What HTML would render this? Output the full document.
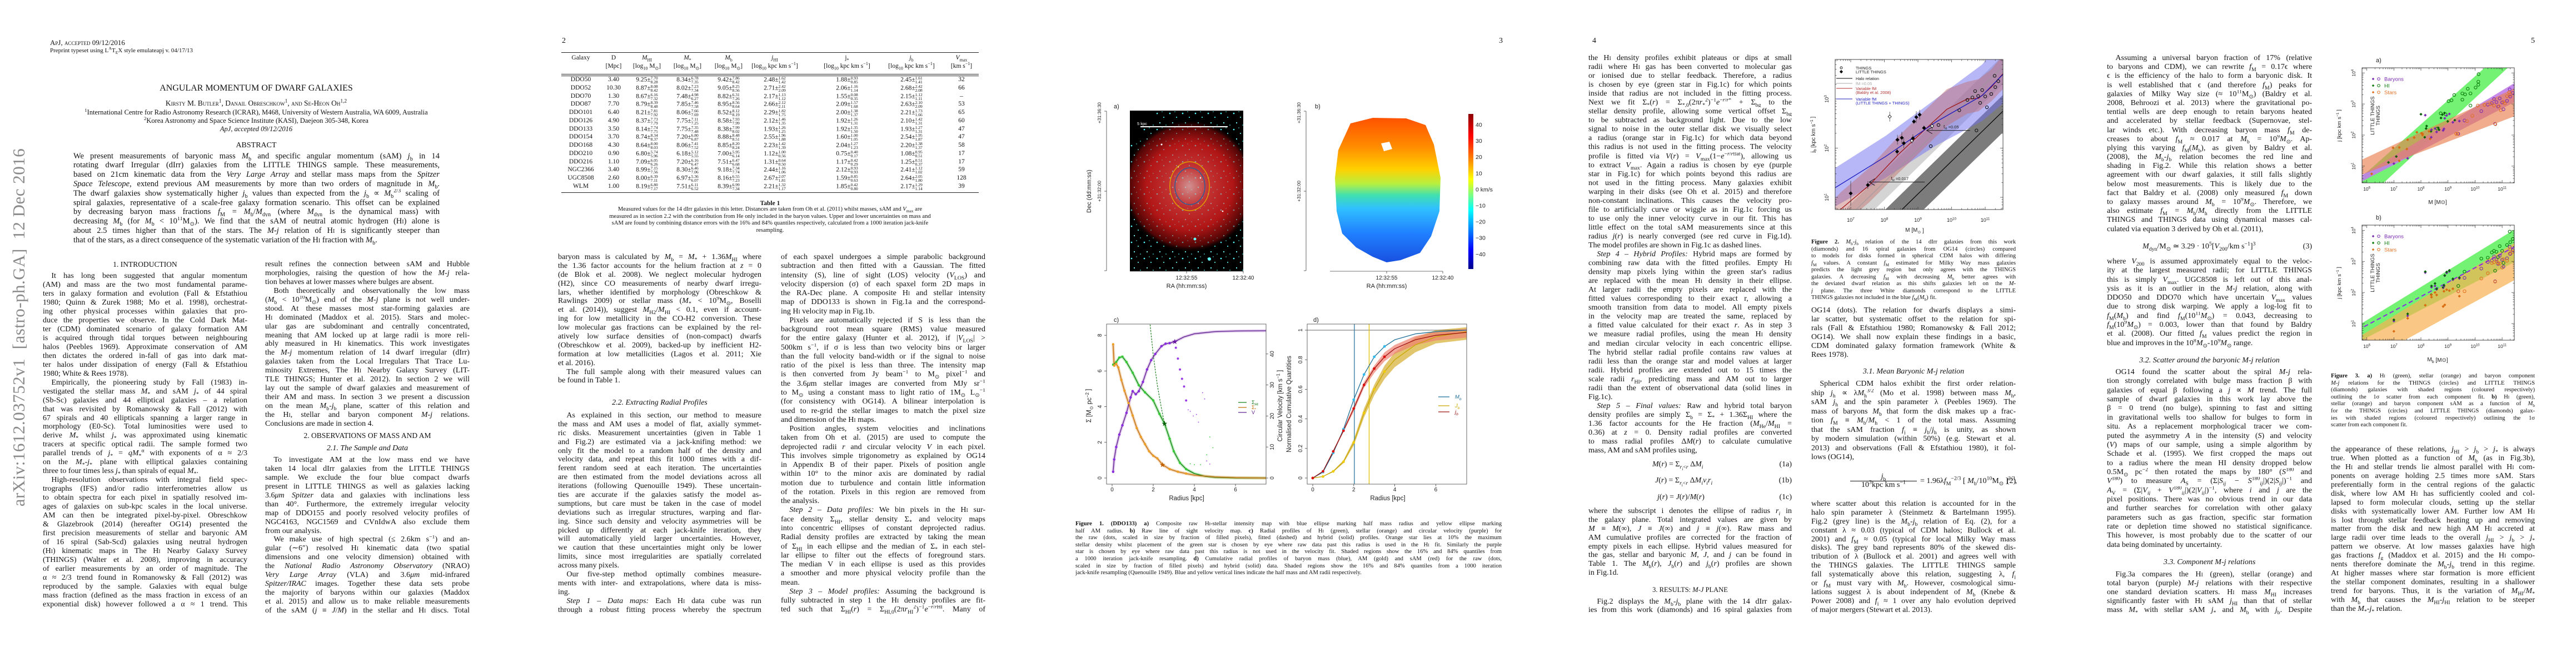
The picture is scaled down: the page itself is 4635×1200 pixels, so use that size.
<!DOCTYPE html>
<html><head><meta charset="utf-8">
<style>
html,body{margin:0;padding:0;background:#fff}
body{width:4635px;height:1200px;position:relative;overflow:hidden;font-family:"Liberation Serif",serif;color:#111}
.pg{position:absolute;top:0;width:927px;height:1200px}
.blk{position:absolute;font-size:14px}
.blk>div{height:var(--lh);line-height:var(--lh);overflow:hidden;text-align:justify;text-align-last:justify;white-space:normal}
.blk>div.e{text-align-last:left}
.blk>div.i{text-indent:1.1em}
.blk>div.c{text-align:center;text-align-last:center}
.cap{font-size:10.6px}
.abs{position:absolute;white-space:nowrap}
.hd{position:absolute;text-align:center;font-size:13.5px;line-height:16px;height:16px}
sub,sup{font-size:70%;line-height:0}
.pn{position:absolute;top:66px;font-size:14px}
#side{position:absolute;left:34px;top:589px;transform:translate(-50%,-50%) rotate(-90deg);font-size:31px;color:#8a8a8a;white-space:nowrap;letter-spacing:0.5px}
.tb{position:absolute;font-size:11.5px;white-space:nowrap;transform:translateX(-50%)}
.st{display:inline-block;vertical-align:middle;font-size:7.5px;line-height:7px;text-align:left}
.rule{position:absolute;height:1px;background:#222}
</style></head>
<body>

<!-- ===================== PAGE 1 ===================== -->
<div class="pg" style="left:0">
<div id="side">arXiv:1612.03752v1&nbsp; [astro-ph.GA]&nbsp; 12 Dec 2016</div>
<div class="abs" style="left:90px;top:69px;font-size:13px;font-variant:small-caps">ApJ, accepted 09/12/2016</div>
<div class="abs" style="left:90px;top:85px;font-size:11px">Preprint typeset using L<sup>A</sup>T<sub>E</sub>X style emulateapj v. 04/17/13</div>
<div class="hd" style="left:0;width:922px;top:151px;font-size:16px">ANGULAR MOMENTUM OF DWARF GALAXIES</div>
<div class="hd" style="left:0;width:922px;top:178px;font-size:13.5px;font-variant:small-caps">Kirsty M. Butler<sup>1</sup>, Danail Obreschkow<sup>1</sup>, and Se-Heon Oh<sup>1,2</sup></div>
<div class="hd" style="left:0;width:922px;top:194px;font-size:12.5px"><sup>1</sup>International Centre for Radio Astronomy Research (ICRAR), M468, University of Western Australia, WA 6009, Australia</div>
<div class="hd" style="left:0;width:922px;top:209px;font-size:12.5px"><sup>2</sup>Korea Astronomy and Space Science Institute (KASI), Daejeon 305-348, Korea</div>
<div class="hd" style="left:0;width:922px;top:224px;font-size:12.5px;font-style:italic">ApJ, accepted 09/12/2016</div>
<div class="hd" style="left:0;width:922px;top:254px;font-size:14px">ABSTRACT</div>
<div class="blk" style="left:132px;top:272.6px;width:659px;--lh:16.8px;font-size:14.5px">
<div>We present measurements of baryonic mass <i>M</i><sub>b</sub> and specific angular momentum (sAM) <i>j</i><sub>b</sub> in 14</div>
<div>rotating dwarf Irregular (dIrr) galaxies from the LITTLE THINGS sample. These measurements,</div>
<div>based on 21cm kinematic data from the <i>Very Large Array</i> and stellar mass maps from the <i>Spitzer</i></div>
<div><i>Space Telescope</i>, extend previous AM measurements by more than two orders of magnitude in <i>M</i><sub>b</sub>.</div>
<div>The dwarf galaxies show systematically higher <i>j</i><sub>b</sub> values than expected from the <i>j</i><sub>b</sub> ∝ <i>M</i><sub>b</sub><sup>2/3</sup> scaling of</div>
<div>spiral galaxies, representative of a scale-free galaxy formation scenario. This offset can be explained</div>
<div>by decreasing baryon mass fractions <i>f</i><sub>M</sub> = <i>M</i><sub>b</sub>/<i>M</i><sub>dyn</sub> (where <i>M</i><sub>dyn</sub> is the dynamical mass) with</div>
<div>decreasing <i>M</i><sub>b</sub> (for <i>M</i><sub>b</sub> &lt; 10<sup>11</sup>M<sub>⊙</sub>). We find that the sAM of neutral atomic hydrogen (H<span style="font-size:70%">I</span>) alone is</div>
<div>about 2.5 times higher than that of the stars. The <i>M</i>-<i>j</i> relation of H<span style="font-size:70%">I</span> is significantly steeper than</div>
<div class="e">that of the stars, as a direct consequence of the systematic variation of the H<span style="font-size:70%">I</span> fraction with <i>M</i><sub>b</sub>.</div>
</div>
<div class="hd" style="left:77px;width:368px;top:468px">1. INTRODUCTION</div>
<div class="blk" style="left:77px;top:489px;width:368px;--lh:15.97px">
<div class="i">It has long been suggested that angular momentum</div>
<div>(AM) and mass are the two most fundamental parame-</div>
<div>ters in galaxy formation and evolution (Fall &amp; Efstathiou</div>
<div>1980; Quinn &amp; Zurek 1988; Mo et al. 1998), orchestrat-</div>
<div>ing other physical processes within galaxies that pro-</div>
<div>duce the properties we observe. In the Cold Dark Mat-</div>
<div>ter (CDM) dominated scenario of galaxy formation AM</div>
<div>is acquired through tidal torques between neighbouring</div>
<div>halos (Peebles 1969). Approximate conservation of AM</div>
<div>then dictates the ordered in-fall of gas into dark mat-</div>
<div>ter halos under dissipation of energy (Fall &amp; Efstathiou</div>
<div class="e">1980; White &amp; Rees 1978).</div>
<div class="i">Empirically, the pioneering study by Fall (1983) in-</div>
<div>vestigated the stellar mass <i>M</i><sub>*</sub> and sAM <i>j</i><sub>*</sub> of 44 spiral</div>
<div>(Sb-Sc) galaxies and 44 elliptical galaxies – a relation</div>
<div>that was revisited by Romanowsky &amp; Fall (2012) with</div>
<div>67 spirals and 40 ellipticals spanning a larger range in</div>
<div>morphology (E0-Sc). Total luminosities were used to</div>
<div>derive <i>M</i><sub>*</sub> whilst <i>j</i><sub>*</sub> was approximated using kinematic</div>
<div>tracers at specific optical radii. The sample formed two</div>
<div>parallel trends of <i>j</i><sub>*</sub> = <i>qM</i><sub>*</sub><sup>α</sup> with exponents of α ≈ 2/3</div>
<div>on the <i>M</i><sub>*</sub>-<i>j</i><sub>*</sub> plane with elliptical galaxies containing</div>
<div class="e">three to four times less <i>j</i><sub>*</sub> than spirals of equal <i>M</i><sub>*</sub>.</div>
<div class="i">High-resolution observations with integral field spec-</div>
<div>trographs (IFS) and/or radio interferometries allow us</div>
<div>to obtain spectra for each pixel in spatially resolved im-</div>
<div>ages of galaxies on sub-kpc scales in the local universe.</div>
<div>AM can then be integrated pixel-by-pixel. Obreschkow</div>
<div>&amp; Glazebrook (2014) (hereafter OG14) presented the</div>
<div>first precision measurements of stellar and baryonic AM</div>
<div>of 16 spiral (Sab-Scd) galaxies using neutral hydrogen</div>
<div>(H<span style="font-size:70%">I</span>) kinematic maps in The H<span style="font-size:70%">I</span> Nearby Galaxy Survey</div>
<div>(THINGS) (Walter et al. 2008), improving in accuracy</div>
<div>of earlier measurements by an order of magnitude. The</div>
<div>α ≈ 2/3 trend found in Romanowsky &amp; Fall (2012) was</div>
<div>reproduced by the sample. Galaxies with equal bulge</div>
<div>mass fraction (defined as the mass fraction in excess of an</div>
<div>exponential disk) however followed a α ≈ 1 trend. This</div>
</div>
<div class="blk" style="left:477px;top:468px;width:368px;--lh:15.94px">
<div>result refines the connection between sAM and Hubble</div>
<div>morphologies, raising the question of how the <i>M</i>-<i>j</i> rela-</div>
<div class="e">tion behaves at lower masses where bulges are absent.</div>
<div class="i">Both theoretically and observationally the low mass</div>
<div>(<i>M</i><sub>b</sub> &lt; 10<sup>10</sup>M<sub>⊙</sub>) end of the <i>M</i>-<i>j</i> plane is not well under-</div>
<div>stood. At these masses most star-forming galaxies are</div>
<div>H<span style="font-size:70%">I</span> dominated (Maddox et al. 2015). Stars and molec-</div>
<div>ular gas are subdominant and centrally concentrated,</div>
<div>meaning that AM locked up at large radii is more reli-</div>
<div>ably measured in H<span style="font-size:70%">I</span> kinematics. This work investigates</div>
<div>the <i>M</i>-<i>j</i> momentum relation of 14 dwarf irregular (dIrr)</div>
<div>galaxies taken from the Local Irregulars That Trace Lu-</div>
<div>minosity Extremes, The H<span style="font-size:70%">I</span> Nearby Galaxy Survey (LIT-</div>
<div>TLE THINGS; Hunter et al. 2012). In section 2 we will</div>
<div>lay out the sample of dwarf galaxies and measurement of</div>
<div>their AM and mass. In section 3 we present a discussion</div>
<div>on the mean <i>M</i><sub>b</sub>-<i>j</i><sub>b</sub> plane, scatter of this relation and</div>
<div>the H<span style="font-size:70%">I</span>, stellar and baryon component <i>M</i>-<i>j</i> relations.</div>
<div class="e">Conclusions are made in section 4.</div>
</div>
<div class="hd" style="left:477px;width:368px;top:776px">2. OBSERVATIONS OF MASS AND AM</div>
<div class="hd" style="left:477px;width:368px;top:799px;font-style:italic;font-size:14px">2.1. The Sample and Data</div>
<div class="blk" style="left:477px;top:820px;width:368px;--lh:15.94px">
<div class="i">To investigate AM at the low mass end we have</div>
<div>taken 14 local dIrr galaxies from the LITTLE THINGS</div>
<div>sample. We exclude the four blue compact dwarfs</div>
<div>present in LITTLE THINGS as well as galaxies lacking</div>
<div>3.6<i>μm Spitzer</i> data and galaxies with inclinations less</div>
<div>than 40°. Furthermore, the extremely irregular velocity</div>
<div>map of DDO155 and poorly resolved velocity profiles of</div>
<div>NGC4163, NGC1569 and CVnIdwA also exclude them</div>
<div class="e">from our analysis.</div>
<div class="i">We make use of high spectral (≤ 2.6km s<sup>−1</sup>) and an-</div>
<div>gular (∼6″) resolved H<span style="font-size:70%">I</span> kinematic data (two spatial</div>
<div>dimensions and one velocity dimension) obtained with</div>
<div>the <i>National Radio Astronomy Observatory</i> (NRAO)</div>
<div><i>Very Large Array</i> (VLA) and 3.6<i>μm</i> mid-infrared</div>
<div><i>Spitzer/IRAC</i> images. Together these data sets probe</div>
<div>the majority of baryons within our galaxies (Maddox</div>
<div>et al. 2015) and allow us to make reliable measurements</div>
<div>of the sAM (<i>j</i> ≡ <i>J</i>/<i>M</i>) in the stellar and H<span style="font-size:70%">I</span> discs. Total</div>
</div>
</div>

<!-- ===================== PAGE 2 ===================== -->
<div class="pg" style="left:927px">
<div class="pn" style="left:84px">2</div>
<div id="table1" style="position:absolute;left:0;top:0;width:927px;height:360px">
<div class="rule" style="left:83px;width:751px;top:94px"></div>
<div class="rule" style="left:83px;width:751px;top:133px"></div>
<div class="rule" style="left:83px;width:751px;top:136px"></div>
<div class="rule" style="left:83px;width:751px;top:346px"></div>
</div>
<div class="hd" style="left:0;width:917px;top:358px;font-size:11.5px;font-weight:bold">Table 1</div>
<div class="blk cap" style="left:83px;top:371px;width:751px;--lh:12.6px">
<div class="c">Measured values for the 14 dIrr galaxies in this letter. Distances are taken from Oh et al. (2011) whilst masses, sAM and <i>V</i><sub>max</sub> are</div>
<div class="c">measured as in section 2.2 with the contribution from He only included in the baryon values. Upper and lower uncertainties on mass and</div>
<div class="c">sAM are found by combining distance errors with the 16% and 84% quantiles respectively, calculated from a 1000 iteration jack-knife</div>
<div class="c">resampling.</div>
</div>
<div class="blk" style="left:77px;top:455px;width:366px;--lh:15.9px">
<div>baryon mass is calculated by <i>M</i><sub>b</sub> = <i>M</i><sub>*</sub> + 1.36<i>M</i><sub>HI</sub> where</div>
<div>the 1.36 factor accounts for the helium fraction at <i>z</i> = 0</div>
<div>(de Blok et al. 2008). We neglect molecular hydrogen</div>
<div>(H2), since CO measurements of nearby dwarf irregu-</div>
<div>lars, whether identified by morphology (Obreschkow &amp;</div>
<div>Rawlings 2009) or stellar mass (<i>M</i><sub>*</sub> &lt; 10<sup>9</sup>M<sub>⊙</sub>, Boselli</div>
<div>et al. (2014)), suggest <i>M</i><sub>H2</sub>/<i>M</i><sub>HI</sub> &lt; 0.1, even if account-</div>
<div>ing for low metallicity in the CO-H2 conversion. These</div>
<div>low molecular gas fractions can be explained by the rel-</div>
<div>atively low surface densities of (non-compact) dwarfs</div>
<div>(Obreschkow et al. 2009), backed-up by inefficient H2-</div>
<div>formation at low metallicities (Lagos et al. 2011; Xie</div>
<div class="e">et al. 2016).</div>
<div class="i">The full sample along with their measured values can</div>
<div class="e">be found in Table 1.</div>
</div>
<div class="hd" style="left:77px;width:366px;top:717px;font-style:italic;font-size:14px">2.2. Extracting Radial Profiles</div>
<div class="blk" style="left:77px;top:740px;width:366px;--lh:15.9px">
<div class="i">As explained in this section, our method to measure</div>
<div>the mass and AM uses a model of flat, axially symmet-</div>
<div>ric disks. Measurement uncertainties (given in Table 1</div>
<div>and Fig.2) are estimated via a jack-knifing method: we</div>
<div>only fit the model to a random half of the density and</div>
<div>velocity data, and repeat this fit 1000 times with a dif-</div>
<div>ferent random seed at each iteration. The uncertainties</div>
<div>are then estimated from the model deviations across all</div>
<div>iterations (following Quenouille 1949). These uncertain-</div>
<div>ties are accurate if the galaxies satisfy the model as-</div>
<div>sumptions, but care must be taken in the case of model</div>
<div>deviations such as irregular structures, warping and flar-</div>
<div>ing. Since such density and velocity asymmetries will be</div>
<div>picked up differently at each jack-knife iteration, they</div>
<div>will automatically yield larger uncertainties. However,</div>
<div>we caution that these uncertainties might only be lower</div>
<div>limits, since most irregularities are spatially correlated</div>
<div class="e">across many pixels.</div>
<div class="i">Our five-step method optimally combines measure-</div>
<div>ments with inter- and extrapolations, where data is miss-</div>
<div class="e">ing.</div>
<div class="i"><i>Step 1 – Data maps:</i> Each H<span style="font-size:70%">I</span> data cube was run</div>
<div>through a robust fitting process whereby the spectrum</div>
</div>
<div class="blk" style="left:478px;top:455px;width:368px;--lh:16.28px">
<div>of each spaxel undergoes a simple parabolic background</div>
<div>subtraction and then fitted with a Gaussian. The fitted</div>
<div>intensity (S), line of sight (LOS) velocity (<i>V</i><sub>LOS</sub>) and</div>
<div>velocity dispersion (σ) of each spaxel form 2D maps in</div>
<div>the RA-Dec plane. A composite H<span style="font-size:70%">I</span> and stellar intensity</div>
<div>map of DDO133 is shown in Fig.1a and the correspond-</div>
<div class="e">ing H<span style="font-size:70%">I</span> velocity map in Fig.1b.</div>
<div class="i">Pixels are automatically rejected if S is less than the</div>
<div>background root mean square (RMS) value measured</div>
<div>for the entire galaxy (Hunter et al. 2012), if |<i>V</i><sub>LOS</sub>| &gt;</div>
<div>500km s<sup>−1</sup>, if σ is less than two velocity bins or larger</div>
<div>than the full velocity band-width or if the signal to noise</div>
<div>ratio of the pixel is less than three. The intensity map</div>
<div>is then converted from Jy beam<sup>−1</sup> to M<sub>⊙</sub> pixel<sup>−1</sup> and</div>
<div>the 3.6<i>μ</i>m stellar images are converted from MJy sr<sup>−1</sup></div>
<div>to M<sub>⊙</sub> using a constant mass to light ratio of 1M<sub>⊙</sub> L<sub>⊙</sub><sup>−1</sup></div>
<div>(for consistency with OG14). A bilinear interpolation is</div>
<div>used to re-grid the stellar images to match the pixel size</div>
<div class="e">and dimension of the H<span style="font-size:70%">I</span> maps.</div>
<div class="i">Position angles, system velocities and inclinations</div>
<div>taken from Oh et al. (2015) are used to compute the</div>
<div>deprojected radii <i>r</i> and circular velocity <i>V</i> in each pixel.</div>
<div>This involves simple trigonometry as explained by OG14</div>
<div>in Appendix B of their paper. Pixels of position angle</div>
<div>within 10° to the minor axis are dominated by radial</div>
<div>motion due to turbulence and contain little information</div>
<div>of the rotation. Pixels in this region are removed from</div>
<div class="e">the analysis.</div>
<div class="i"><i>Step 2 – Data profiles:</i> We bin pixels in the H<span style="font-size:70%">I</span> sur-</div>
<div>face density Σ<sub>HI</sub>, stellar density Σ<sub>*</sub> and velocity maps</div>
<div>into concentric ellipses of constant deprojected radius.</div>
<div>Radial density profiles are extracted by taking the mean</div>
<div>of Σ<sub>HI</sub> in each ellipse and the median of Σ<sub>*</sub> in each stel-</div>
<div>lar ellipse to filter out the effects of foreground stars.</div>
<div>The median V in each ellipse is used as this provides</div>
<div>a smoother and more physical velocity profile than the</div>
<div class="e">mean.</div>
<div class="i"><i>Step 3 – Model profiles:</i> Assuming the background is</div>
<div>fully subtracted in step 1 the H<span style="font-size:70%">I</span> density profiles are fit-</div>
<div>ted such that Σ<sub>HI</sub>(<i>r</i>) = Σ<sub>HI,0</sub>(2π<i>r</i><sub>HI</sub><sup>2</sup>)<sup>−1</sup><i>e</i><sup>−<i>r</i>/<i>r</i>HI</sup>. Many of</div>
</div>
</div>

<!-- ===================== PAGE 3 ===================== -->
<div class="pg" style="left:1854px">
<div class="pn" style="left:843px">3</div>
<div class="blk cap" style="left:81px;top:937px;width:767px;--lh:12.6px">
<div><b>Figure 1.</b> <b>(DDO133) a)</b> Composite raw H<span style="font-size:70%">I</span>-stellar intensity map with blue ellipse marking half mass radius and yellow ellipse marking</div>
<div>half AM radius. <b>b)</b> Raw line of sight velocity map. <b>c)</b> Radial profiles of H<span style="font-size:70%">I</span> (green), stellar (orange) and circular velocity (purple) for</div>
<div>the raw (dots, scaled in size by fraction of filled pixels), fitted (dashed) and hybrid (solid) profiles. Orange star lies at 10% the maximum</div>
<div>stellar density whilst placement of the green star is chosen by eye where raw data past this radius is used in the H<span style="font-size:70%">I</span> fit. Similarly the purple</div>
<div>star is chosen by eye where raw data past this radius is not used in the velocity fit. Shaded regions show the 16% and 84% quantiles from</div>
<div>a 1000 iteration jack-knife resampling. <b>d)</b> Cumulative radial profiles of baryon mass (blue), AM (gold) and sAM (red) for the raw (dots,</div>
<div>scaled in size by fraction of filled pixels) and hybrid (solid) data. Shaded regions show the 16% and 84% quantiles from a 1000 iteration</div>
<div class="e">jack-knife resampling (Quenouille 1949). Blue and yellow vertical lines indicate the half mass and AM radii respectively.</div>
</div>
</div>

<!-- ===================== PAGE 4 ===================== -->
<div class="pg" style="left:2781px">
<div class="pn" style="left:84px">4</div>
<div class="blk" style="left:77px;top:97px;width:366px;--lh:16.05px">
<div>the H<span style="font-size:70%">I</span> density profiles exhibit plateaus or dips at small</div>
<div>radii where H<span style="font-size:70%">I</span> gas has been converted to molecular gas</div>
<div>or ionised due to stellar feedback. Therefore, a radius</div>
<div>is chosen by eye (green star in Fig.1c) for which points</div>
<div>inside that radius are not included in the fitting process.</div>
<div>Next we fit Σ<sub>*</sub>(<i>r</i>) = Σ<sub>*,0</sub>(2π<i>r</i><sub>*</sub><sup>2</sup>)<sup>−1</sup><i>e</i><sup>−<i>r</i>/<i>r</i>*</sup> + Σ<sub>bg</sub> to the</div>
<div>stellar density profile, allowing some vertical offset Σ<sub>bg</sub></div>
<div>to be subtracted as background light. Due to the low</div>
<div>signal to noise in the outer stellar disk we visually select</div>
<div>a radius (orange star in Fig.1c) for which data beyond</div>
<div>this radius is not used in the fitting process. The velocity</div>
<div>profile is fitted via <i>V</i>(<i>r</i>) = <i>V</i><sub>max</sub>(1−<i>e</i><sup>−<i>r</i>/<i>r</i>flat</sup>), allowing us</div>
<div>to extract <i>V</i><sub>max</sub>. Again a radius is chosen by eye (purple</div>
<div>star in Fig.1c) for which points beyond this radius are</div>
<div>not used in the fitting process. Many galaxies exhibit</div>
<div>warping in their disks (see Oh et al. 2015) and therefore</div>
<div>non-constant inclinations. This causes the velocity pro-</div>
<div>file to artificially curve or wiggle as in Fig.1c forcing us</div>
<div>to use only the inner velocity curve in our fit. This has</div>
<div>little effect on the total sAM measurements since at this</div>
<div>radius <i>j</i>(<i>r</i>) is nearly converged (see red curve in Fig.1d).</div>
<div class="e">The model profiles are shown in Fig.1c as dashed lines.</div>
<div class="i"><i>Step 4 – Hybrid Profiles:</i> Hybrid maps are formed by</div>
<div>combining raw data with the fitted profiles. Empty H<span style="font-size:70%">I</span></div>
<div>density map pixels lying within the green star's radius</div>
<div>are replaced with the mean H<span style="font-size:70%">I</span> density in their ellipse.</div>
<div>At larger radii the empty pixels are replaced with the</div>
<div>fitted values corresponding to their exact r, allowing a</div>
<div>smooth transition from data to model. All empty pixels</div>
<div>in the velocity map are treated the same, replaced by</div>
<div>a fitted value calculated for their exact <i>r</i>. As in step 3</div>
<div>we measure radial profiles, using the mean H<span style="font-size:70%">I</span> density</div>
<div>and median circular velocity in each concentric ellipse.</div>
<div>The hybrid stellar radial profile contains raw values at</div>
<div>radii less than the orange star and model values at larger</div>
<div>radii. Hybrid profiles are extended out to 15 times the</div>
<div>scale radii <i>r</i><sub>HI</sub>, predicting mass and AM out to larger</div>
<div>radii than the extent of observational data (solid lines in</div>
<div class="e">Fig.1c).</div>
<div class="i"><i>Step 5 – Final values:</i> Raw and hybrid total baryon</div>
<div>density profiles are simply Σ<sub>b</sub> = Σ<sub>*</sub> + 1.36Σ<sub>HI</sub> where the</div>
<div>1.36 factor accounts for the He fraction (<i>M</i><sub>He</sub>/<i>M</i><sub>HI</sub> =</div>
<div>0.36) at <i>z</i> = 0. Density radial profiles are converted</div>
<div>to mass radial profiles Δ<i>M</i>(<i>r</i>) to calculate cumulative</div>
<div class="e">mass, AM and sAM profiles using,</div>
</div>
<div class="abs" style="left:77px;width:366px;top:827px;font-size:14px;line-height:18px"><span style="position:absolute;left:115px"><i>M</i>(<i>r</i>) = Σ<sub><i>r</i><sub>i</sub>&lt;<i>r</i></sub> Δ<i>M</i><sub><i>i</i></sub></span><span style="position:absolute;right:0">(1a)</span></div>
<div class="abs" style="left:77px;width:366px;top:856px;font-size:14px;line-height:18px"><span style="position:absolute;left:120px"><i>J</i>(<i>r</i>) = Σ<sub><i>r</i><sub>i</sub>&lt;<i>r</i></sub> Δ<i>M</i><sub><i>i</i></sub><i>v</i><sub><i>i</i></sub><i>r</i><sub><i>i</i></sub></span><span style="position:absolute;right:0">(1b)</span></div>
<div class="abs" style="left:77px;width:366px;top:886px;font-size:14px;line-height:18px"><span style="position:absolute;left:124px"><i>j</i>(<i>r</i>) = <i>J</i>(<i>r</i>)/<i>M</i>(<i>r</i>)</span><span style="position:absolute;right:0">(1c)</span></div>
<div class="blk" style="left:77px;top:912px;width:366px;--lh:15.9px">
<div>where the subscript i denotes the ellipse of radius <i>r</i><sub><i>i</i></sub> in</div>
<div>the galaxy plane. Total integrated values are given by</div>
<div><i>M</i> ≡ <i>M</i>(∞), <i>J</i> ≡ <i>J</i>(∞) and <i>j</i> ≡ <i>j</i>(∞). Raw mass and</div>
<div>AM cumulative profiles are corrected for the fraction of</div>
<div>empty pixels in each ellipse. Hybrid values measured for</div>
<div>the gas, stellar and baryonic <i>M</i>, <i>J</i>, and <i>j</i> can be found in</div>
<div>Table 1. The <i>M</i><sub>b</sub>(<i>r</i>), <i>J</i><sub>b</sub>(<i>r</i>) and <i>j</i><sub>b</sub>(<i>r</i>) profiles are shown</div>
<div class="e">in Fig.1d.</div>
</div>
<div class="hd" style="left:77px;width:366px;top:1053px;font-size:12.5px">3. RESULTS: <i>M</i>-<i>J</i> PLANE</div>
<div class="blk" style="left:77px;top:1075px;width:366px;--lh:15px">
<div class="i">Fig.2 displays the <i>M</i><sub>b</sub>-<i>j</i><sub>b</sub> plane with the 14 dIrr galax-</div>
<div>ies from this work (diamonds) and 16 spiral galaxies from</div>
</div>
<div class="blk cap" style="left:478px;top:430px;width:368px;--lh:12.5px">
<div><b>Figure 2.</b> <i>M</i><sub>b</sub>-<i>j</i><sub>b</sub> relation of the 14 dIrr galaxies from this work</div>
<div>(diamonds) and 16 spiral galaxies from OG14 (circles) compared</div>
<div>to models for disks formed in spherical CDM halos with differing</div>
<div><i>f</i><sub>M</sub> values. A constant <i>f</i><sub>M</sub> estimated for Milky Way mass galaxies</div>
<div>predicts the light grey region but only agrees with the THINGS</div>
<div>galaxies. A decreasing <i>f</i><sub>M</sub> with decreasing <i>M</i><sub>b</sub> better agrees with</div>
<div>the deviated dwarf relation as this shifts galaxies left on the <i>M</i>-</div>
<div><i>j</i> plane. The three White diamonds correspond to the LITTLE</div>
<div class="e">THINGS galaxies not included in the blue <i>f</i><sub>M</sub>(<i>M</i><sub>b</sub>) fit.</div>
</div>
<div class="blk" style="left:478px;top:551px;width:368px;--lh:16px">
<div>OG14 (dots). The relation for dwarfs displays a simi-</div>
<div>lar scatter, but systematic offset to the relation for spi-</div>
<div>rals (Fall &amp; Efstathiou 1980; Romanowsky &amp; Fall 2012;</div>
<div>OG14). We shall now explain these findings in a basic,</div>
<div>CDM dominated galaxy formation framework (White &amp;</div>
<div class="e">Rees 1978).</div>
</div>
<div class="hd" style="left:478px;width:368px;top:661px;font-style:italic;font-size:14px">3.1. Mean Baryonic <i>M</i>-<i>j</i> relation</div>
<div class="blk" style="left:478px;top:683px;width:368px;--lh:16.5px">
<div class="i">Spherical CDM halos exhibit the first order relation-</div>
<div>ship <i>j</i><sub>h</sub> ∝ λ<i>M</i><sub>h</sub><sup>3/2</sup> (Mo et al. 1998) between mass <i>M</i><sub>h</sub>,</div>
<div>sAM <i>j</i><sub>h</sub> and the spin parameter λ (Peebles 1969). The</div>
<div>mass of baryons <i>M</i><sub>b</sub> that form the disk makes up a frac-</div>
<div>tion <i>f</i><sub>M</sub> ≡ <i>M</i><sub>b</sub>/<i>M</i><sub>h</sub> &lt; 1 of the total mass. Assuming</div>
<div>that the sAM fraction <i>f</i><sub>j</sub> ≡ <i>j</i><sub>b</sub>/<i>j</i><sub>h</sub> is unity, as shown</div>
<div>by modern simulation (within 50%) (e.g. Stewart et al.</div>
<div>2013) and observations (Fall &amp; Efstathiou 1980), it fol-</div>
<div class="e">lows (OG14),</div>
</div>
<div class="abs" style="left:478px;width:368px;top:851px;height:30px;font-size:14px"><span style="position:absolute;left:70px;top:0;text-align:center;display:inline-block;width:120px;line-height:14px"><i>j</i><sub>b</sub><br><span style="border-top:1px solid #111;display:inline-block;width:120px">10<sup>3</sup>kpc km s<sup>−1</sup></span></span><span style="position:absolute;left:196px;top:7px">= 1.96λ<i>f</i><sub>M</sub><sup>−2/3</sup> [ <i>M</i><sub>b</sub>/10<sup>10</sup>M<sub>⊙</sub> ]<sup>2/3</sup>,</span><span style="position:absolute;right:0;top:7px">(2)</span></div>
<div class="blk" style="left:478px;top:899px;width:368px;--lh:15.9px">
<div>where scatter about this relation is accounted for in the</div>
<div>halo spin parameter λ (Steinmetz &amp; Bartelmann 1995).</div>
<div>Fig.2 (grey line) is the <i>M</i><sub>b</sub>-<i>j</i><sub>b</sub> relation of Eq. (2), for a</div>
<div>constant λ ≈ 0.03 (typical of CDM halos; Bullock et al.</div>
<div>2001) and <i>f</i><sub>M</sub> ≈ 0.05 (typical for local Milky Way mass</div>
<div>disks). The grey band represents 80% of the skewed dis-</div>
<div>tribution of λ (Bullock et al. 2001) and agrees well with</div>
<div>the THINGS galaxies. The LITTLE THINGS sample</div>
<div>fall systematically above this relation, suggesting λ, <i>f</i><sub>j</sub></div>
<div>or <i>f</i><sub>M</sub> must vary with <i>M</i><sub>b</sub>. However, cosmological simu-</div>
<div>lations suggest λ is about independent of <i>M</i><sub>b</sub> (Knebe &amp;</div>
<div>Power 2008) and <i>f</i><sub>j</sub> ≈ 1 over any halo evolution deprived</div>
<div class="e">of major mergers (Stewart et al. 2013).</div>
</div>
</div>

<!-- ===================== PAGE 5 ===================== -->
<div class="pg" style="left:3708px">
<div class="pn" style="left:846px">5</div>
<div class="blk" style="left:83px;top:97px;width:369px;--lh:16.2px">
<div class="i">Assuming a universal baryon fraction of 17% (relative</div>
<div>to baryons and CDM), we can rewrite <i>f</i><sub>M</sub> = 0.17ϵ where</div>
<div>ϵ is the efficiency of the halo to form a baryonic disk. It</div>
<div>is well established that ϵ (and therefore <i>f</i><sub>M</sub>) peaks for</div>
<div>galaxies of Milky Way size (≈ 10<sup>11</sup>M<sub>⊙</sub>) (Baldry et al.</div>
<div>2008, Behroozi et al. 2013) where the gravitational po-</div>
<div>tential wells are deep enough to retain baryons heated</div>
<div>and accelerated by stellar feedback (Supernovae, stel-</div>
<div>lar winds etc.). With decreasing baryon mass <i>f</i><sub>M</sub> de-</div>
<div>creases to about <i>f</i><sub>M</sub> ≈ 0.017 at <i>M</i><sub>b</sub> = 10<sup>9</sup><i>M</i><sub>⊙</sub>. Ap-</div>
<div>plying this varying <i>f</i><sub>M</sub>(<i>M</i><sub>b</sub>), as given by Baldry et al.</div>
<div>(2008), the <i>M</i><sub>b</sub>-<i>j</i><sub>b</sub> relation becomes the red line and</div>
<div>shading in Fig.2. While this relation shows a better</div>
<div>agreement with our dwarf galaxies, it still falls slightly</div>
<div>below most measurements. This is likely due to the</div>
<div>fact that Baldry et al. (2008) only measured <i>f</i><sub>M</sub> down</div>
<div>to galaxy masses around <i>M</i><sub>b</sub> = 10<sup>9</sup><i>M</i><sub>⊙</sub>. Therefore, we</div>
<div>also estimate <i>f</i><sub>M</sub> = <i>M</i><sub>b</sub>/<i>M</i><sub>h</sub> directly from the LITTLE</div>
<div>THINGS and THINGS data using dynamical masses cal-</div>
<div class="e">culated via equation 3 derived by Oh et al. (2011),</div>
</div>
<div class="abs" style="left:83px;width:369px;top:435px;font-size:14px;line-height:18px"><span style="position:absolute;left:64px"><i>M</i><sub>dyn</sub>/M<sub>⊙</sub> ≃ 3.29 · 10<sup>5</sup>[<i>V</i><sub>200</sub>/km s<sup>−1</sup>]<sup>3</sup></span><span style="position:absolute;right:0">(3)</span></div>
<div class="blk" style="left:83px;top:463px;width:369px;--lh:16.3px">
<div>where <i>V</i><sub>200</sub> is assumed approximately equal to the veloc-</div>
<div>ity at the largest measured radii; for LITTLE THINGS</div>
<div>this is simply <i>V</i><sub>max</sub>. UGC8508 is left out of this anal-</div>
<div>ysis as it is an outlier in the <i>M</i>-<i>j</i> relation, along with</div>
<div>DDO50 and DDO70 which have uncertain <i>V</i><sub>max</sub> values</div>
<div>due to strong disk warping. We apply a log-log fit to</div>
<div><i>f</i><sub>M</sub>(<i>M</i><sub>b</sub>) and find <i>f</i><sub>M</sub>(10<sup>11</sup><i>M</i><sub>⊙</sub>) = 0.043, decreasing to</div>
<div><i>f</i><sub>M</sub>(10<sup>9</sup><i>M</i><sub>⊙</sub>) = 0.003, lower than that found by Baldry</div>
<div>et al. (2008). Our fitted <i>f</i><sub>M</sub> values predict the region in</div>
<div class="e">blue and improves in the 10<sup>8</sup><i>M</i><sub>⊙</sub>-10<sup>9</sup><i>M</i><sub>⊙</sub> range.</div>
</div>
<div class="hd" style="left:83px;width:369px;top:641px;font-style:italic;font-size:14px">3.2. Scatter around the baryonic <i>M</i>-<i>j</i> relation</div>
<div class="blk" style="left:83px;top:662px;width:369px;--lh:16.37px">
<div class="i">OG14 found the scatter about the spiral <i>M</i>-<i>j</i> rela-</div>
<div>tion strongly correlated with bulge mass fraction β with</div>
<div>galaxies of equal β following a <i>j</i> ∝ <i>M</i> trend. The full</div>
<div>sample of dwarf galaxies in this work lay above the</div>
<div>β = 0 trend (no bulge), spinning to fast and sitting</div>
<div>in gravitational wells too shallow for bulges to form in</div>
<div>situ. As a replacement morphological tracer we com-</div>
<div>puted the asymmetry <i>A</i> in the intensity (<i>S</i>) and velocity</div>
<div>(<i>V</i>) maps of our sample, using a simple algorithm by</div>
<div>Schade et al. (1995). We first cropped the maps out</div>
<div>to a radius where the mean HI density dropped below</div>
<div>0.5M<sub>⊙</sub> pc<sup>−2</sup> then rotated the maps by 180° (<i>S</i><sup>180</sup> and</div>
<div><i>V</i><sup>180</sup>) to measure <i>A</i><sub>S</sub> = (Σ|<i>S</i><sub><i>ij</i></sub> − <i>S</i><sup>180</sup><sub><i>ij</i></sub>|)(2|<i>S</i><sub><i>ij</i></sub>|)<sup>−1</sup> and</div>
<div><i>A</i><sub>V</sub> = (Σ|<i>V</i><sub><i>ij</i></sub> + <i>V</i><sup>180</sup><sub><i>ij</i></sub>|)(2|<i>V</i><sub><i>ij</i></sub>|)<sup>−1</sup>, where <i>i</i> and <i>j</i> are the</div>
<div>pixel positions. There was no obvious trend in our data</div>
<div>and further searches for correlation with other galaxy</div>
<div>parameters such as gas fraction, specific star formation</div>
<div>rate or depletion time showed no statistical significance.</div>
<div>This however, is most probably due to the scatter of our</div>
<div class="e">data being dominated by uncertainty.</div>
</div>
<div class="hd" style="left:83px;width:369px;top:1004px;font-style:italic;font-size:14px">3.3. Component <i>M</i>-<i>j</i> relations</div>
<div class="blk" style="left:83px;top:1026px;width:369px;--lh:16px">
<div class="i">Fig.3a compares the H<span style="font-size:70%">I</span> (green), stellar (orange) and</div>
<div>total baryon (purple) <i>M</i>-<i>j</i> relations with their respective</div>
<div>one standard deviation scatters. H<span style="font-size:70%">I</span> mass <i>M</i><sub>HI</sub> increases</div>
<div>significantly faster with H<span style="font-size:70%">I</span> sAM <i>j</i><sub>HI</sub> than that of stellar</div>
<div>mass <i>M</i><sub>*</sub> with stellar sAM <i>j</i><sub>*</sub> and <i>M</i><sub>b</sub> with <i>j</i><sub>b</sub>. Despite</div>
</div>
<div class="blk cap" style="left:486px;top:671px;width:367px;--lh:12.6px">
<div><b>Figure 3. a)</b> H<span style="font-size:70%">I</span> (green), stellar (orange) and baryon component</div>
<div><i>M</i>-<i>j</i> relations for the THINGS (circles) and LITTLE THINGS</div>
<div>(diamonds) galaxies with shaded regions (coloured respectively)</div>
<div>outlining the 1σ scatter from each component fit. <b>b)</b> H<span style="font-size:70%">I</span> (green),</div>
<div>stellar (orange) and baryon component sAM as a function of <i>M</i><sub>b</sub></div>
<div>for the THINGS (circles) and LITTLE THINGS (diamonds) galax-</div>
<div>ies with shaded regions (coloured respectively) outlining the 1σ</div>
<div class="e">scatter from each component fit.</div>
</div>
<div class="blk" style="left:486px;top:801px;width:367px;--lh:15.94px">
<div>the appearance of these relations, <i>j</i><sub>HI</sub> &gt; <i>j</i><sub>b</sub> &gt; <i>j</i><sub>*</sub> is always</div>
<div>true. When plotted as a function of <i>M</i><sub>b</sub> (as in Fig.3b),</div>
<div>the H<span style="font-size:70%">I</span> and stellar trends lie almost parallel with H<span style="font-size:70%">I</span> com-</div>
<div>ponents on average holding 2.5 times more sAM. Stars</div>
<div>preferentially form in the central regions of the galactic</div>
<div>disk, where low AM H<span style="font-size:70%">I</span> has sufficiently cooled and col-</div>
<div>lapsed to form molecular clouds, setting up the stellar</div>
<div>disks with systematically lower AM. Further low AM H<span style="font-size:70%">I</span></div>
<div>is lost through stellar feedback heating up and removing</div>
<div>matter from the disk and new high AM H<span style="font-size:70%">I</span> accreted at</div>
<div>large radii over time leads to the overall <i>j</i><sub>HI</sub> &gt; <i>j</i><sub>b</sub> &gt; <i>j</i><sub>*</sub></div>
<div>pattern we observe. At low masses galaxies have high</div>
<div>gas fractions <i>f</i><sub>g</sub> (Maddox et al. 2015) and the H<span style="font-size:70%">I</span> compo-</div>
<div>nents therefore dominate the <i>M</i><sub>b</sub>-<i>j</i><sub>b</sub> trend in this regime.</div>
<div>At higher masses where star formation is more efficient</div>
<div>the stellar component dominates, resulting in a shallower</div>
<div>trend for baryons. Thus, it is the variation of <i>M</i><sub>HI</sub>/<i>M</i><sub>*</sub></div>
<div>with <i>M</i><sub>b</sub> that causes the <i>M</i><sub>HI</sub>-<i>j</i><sub>HI</sub> relation to be steeper</div>
<div class="e">than the <i>M</i><sub>*</sub>-<i>j</i><sub>*</sub> relation.</div>
</div>
</div>

<!-- ===================== FIGURES OVERLAY ===================== -->
<svg id="figs" width="4635" height="1200" style="position:absolute;left:0;top:0" font-family="Liberation Sans, sans-serif">
<defs>
<clipPath id="clipA"><rect x="2033" y="199" width="204" height="289"/></clipPath>
<clipPath id="clipC"><rect x="1991" y="583" width="287" height="288"/></clipPath>
<clipPath id="clipD"><rect x="2352" y="583" width="287" height="288"/></clipPath>
<clipPath id="clip2"><rect x="3302" y="107" width="302" height="270"/></clipPath>
<clipPath id="clip3a"><rect x="4250" y="122" width="274" height="207"/></clipPath>
<clipPath id="clip3b"><rect x="4250" y="405" width="274" height="207"/></clipPath>
<radialGradient id="redBlob" cx="2140" cy="335" r="120" gradientUnits="userSpaceOnUse">
<stop offset="0" stop-color="#e8a0a0"/><stop offset="0.3" stop-color="#d83838"/><stop offset="0.65" stop-color="#c41818"/><stop offset="0.9" stop-color="#5a0606"/><stop offset="1" stop-color="#000" stop-opacity="0"/></radialGradient>
<pattern id="stars" x="2033" y="199" width="23" height="29" patternUnits="userSpaceOnUse">
<circle cx="3" cy="5" r="1.3" fill="#5ff"/><circle cx="15" cy="12" r="1" fill="#5ff"/><circle cx="8" cy="22" r="1.1" fill="#7ff"/><circle cx="19" cy="26" r="0.8" fill="#5ff"/><circle cx="12" cy="2" r="0.7" fill="#5ff"/></pattern>
<linearGradient id="velGrad" x1="0" y1="210" x2="0" y2="472" gradientUnits="userSpaceOnUse">
<stop offset="0" stop-color="#ff5000"/><stop offset="0.2" stop-color="#ff8a00"/><stop offset="0.36" stop-color="#ffd000"/><stop offset="0.46" stop-color="#b8f040"/><stop offset="0.54" stop-color="#40e0b0"/><stop offset="0.63" stop-color="#30c0ff"/><stop offset="0.8" stop-color="#2080ff"/><stop offset="1" stop-color="#1850e0"/></linearGradient>
<linearGradient id="cbarGrad" x1="0" y1="0" x2="0" y2="1">
<stop offset="0" stop-color="#8b0000"/><stop offset="0.14" stop-color="#ff0000"/><stop offset="0.3" stop-color="#ff8c00"/><stop offset="0.42" stop-color="#ffff00"/><stop offset="0.52" stop-color="#80ff80"/><stop offset="0.62" stop-color="#00ffff"/><stop offset="0.75" stop-color="#0080ff"/><stop offset="0.88" stop-color="#0000ff"/><stop offset="1" stop-color="#00008b"/></linearGradient>
</defs>
<!-- panel a -->
<g>
<rect x="2033" y="199" width="204" height="289" fill="#000"/>
<g clip-path="url(#clipA)">
<rect x="2033" y="199" width="204" height="289" fill="url(#stars)"/>
<ellipse cx="2140" cy="335" rx="118" ry="128" fill="url(#redBlob)" opacity="0.9"/>
<rect x="2033" y="199" width="204" height="289" fill="url(#stars)" opacity="0.45"/>
<polygon points="2033,199 2085,199 2033,262" fill="#000"/>
<circle cx="2150" cy="430" r="2.5" fill="#6ff"/><circle cx="2176" cy="466" r="3" fill="#6ff"/><circle cx="2090" cy="260" r="1.5" fill="#fff"/><circle cx="2120" cy="300" r="1.3" fill="#fff"/><circle cx="2160" cy="320" r="1.3" fill="#fff"/><circle cx="2200" cy="380" r="1.3" fill="#fff"/>
</g>
<line x1="2052" y1="228" x2="2209" y2="228" stroke="#fff" stroke-width="2"/>
<text x="2046" y="225" font-size="7.5" fill="#fff">5 kpc</text>
<ellipse cx="2140.5" cy="335" rx="35.6" ry="44" fill="none" stroke="#e0a000" stroke-width="1.5"/>
<ellipse cx="2141" cy="335" rx="27" ry="33" fill="none" stroke="#2a5d98" stroke-width="1.5"/>
</g>
<!-- panel b -->
<g>
<path d="M2430,222 L2470,212 L2530,213 L2565,225 L2580,260 L2592,320 L2590,380 L2575,425 L2555,455 L2520,468 L2495,472 L2470,462 L2440,445 L2415,420 L2405,380 L2402,320 L2408,270 Z" fill="url(#velGrad)"/>
<path d="M2485,258 L2500,255 L2505,268 L2490,272 Z" fill="#fff"/>
<rect x="2642" y="205" width="9" height="279" fill="url(#cbarGrad)"/>
</g>
</svg>

<script>
// ---------------- DATA ----------------
// Table 1
const tblName=["DDO50","DDO52","DDO70","DDO87","DDO101","DDO126","DDO133","DDO154","DDO168","DDO210","DDO216","NGC2366","UGC8508","WLM"];
const tblD=["3.40","10.30","1.30","7.70","6.40","4.90","3.50","3.70","4.30","0.90","1.10","3.40","2.60","1.00"];
const tblMHI=[9.25,8.87,8.67,8.79,8.21,8.37,8.14,8.74,8.64,6.80,7.09,8.99,8.00,8.19];
const tblMHIu=["7.70","8.08","6.16","8.39","7.81","7.73","7.74","8.34","8.00","5.74","6.05","7.15","6.39","6.80"];
const tblMHIl=["8.28","8.42","7.32","8.48","7.92","7.79","7.75","8.37","8.03","5.96","6.26","7.56","7.11","7.17"];
const tblMs=[8.34,8.02,7.48,7.85,8.06,7.75,7.75,7.20,8.06,6.18,7.20,8.30,6.97,7.51];
const tblMsu=["6.78","7.23","4.98","7.46","7.66","7.11","7.35","6.80","7.41","5.12","6.16","6.46","5.36","6.11"];
const tblMsl=["7.35","7.34","6.27","7.58","7.69","7.25","7.48","6.87","7.52","5.55","6.47","7.06","6.07","6.52"];
const tblMb=[9.42,9.05,8.82,8.95,8.52,8.58,8.38,8.88,8.85,7.00,7.51,9.18,8.16,8.39];
const tblMbu=["7.86","8.25","6.31","8.56","8.12","7.93","7.99","8.48","8.20","5.95","6.47","7.34","6.55","6.99"];
const tblMbl=["8.42","8.56","7.26","8.64","8.19","7.99","8.02","8.51","8.24","6.14","6.68","7.74","7.23","7.34"];
const tbljHI=[2.48,2.71,2.17,2.66,2.29,2.12,1.93,2.55,2.23,1.12,1.31,2.44,2.67,2.21];
const tbljHIu=["1.62","2.42","1.13","2.12","1.82","1.46","1.26","1.96","1.42","1.00","0.64","1.16","2.07","1.32"];
const tbljHIl=["1.42","2.09","1.12","2.11","1.75","1.35","1.25","1.88","1.39","0.56","0.50","1.06","1.81","1.17"];
const tbljs=[1.88,2.06,1.55,2.09,2.00,1.92,1.92,1.60,2.04,0.75,1.17,2.12,1.59,1.85];
const tbljsu=["0.93","1.16","0.08","1.57","1.38","1.26","1.35","1.00","1.27","0.40","0.42","0.93","0.85","0.42"];
const tbljsl=["0.85","1.14","0.35","1.68","1.37","1.31","1.50","1.05","1.23","0.17","0.29","0.93","0.63","0.80"];
const tbljb=[2.45,2.68,2.15,2.63,2.21,2.10,1.93,2.54,2.20,1.08,1.25,2.41,2.64,2.17];
const tbljbu=["1.61","2.42","1.12","2.10","1.73","1.42","1.27","1.95","1.38","0.95","0.51","1.12","2.05","1.29"];
const tbljbl=["1.41","2.08","1.11","2.09","1.66","1.31","1.31","1.87","1.37","0.51","0.37","1.02","1.80","1.14"];
const tblVmax=["32","66","–","53","65","60","47","47","58","17","17","59","128","39"];
const excludedLT=["DDO50","DDO70","UGC8508"];

// Fig 1c radial profiles
const cHiR=[0.05,0.2,0.35,0.5,0.7,1.0,1.3,1.6,2.0,2.3,2.55,2.8,3.0,3.3,3.6,4.0,4.5,5.0,6.0,7.5];
const cHiVal=[6.35,6.5,6.75,6.8,6.5,5.9,5.2,4.8,4.35,3.6,3.05,2.2,1.5,0.85,0.5,0.25,0.1,0.04,0.01,0.0];
const cStarR=[0.05,0.1,0.2,0.3,0.45,0.6,0.8,1.0,1.2,1.4,1.6,1.8,2.0,2.2,2.45,2.8,3.2,3.6,4.0,5.0,6.0,7.5];
const cStarVal=[7.5,6.3,6.4,6.2,5.5,4.9,4.2,3.5,2.8,2.3,1.9,1.5,1.25,1.1,0.75,0.5,0.35,0.25,0.16,0.06,0.02,0.0];
const cVR=[0.05,0.1,0.2,0.35,0.5,0.7,0.9,1.0,1.15,1.3,1.5,1.7,1.9,2.1,2.4,2.6,2.8,3.05,3.5,4.0,5.0,6.0,7.5];
const cVVal=[2,6,10,14,17,21,26,28,27,28,31,35,38,40,42.5,43.3,43.5,44,45.5,46.5,47.2,47.4,47.5];
const cHiFitR=[1.85,2.0,2.2,2.4,2.55];
const cHiFitVal=[8.6,6.9,5.2,3.9,3.05];
const cVRawR=[3.1,3.2,3.3,3.4,3.5,3.6,3.7,3.8,3.95,4.1,4.2,4.4,4.5,4.6,4.75];
const cVRawVal=[42,38.5,35,32,29.5,25,22,21.5,20,20.5,18,27.5,25.5,5.5,4.5];
const cHiRawR=[3.8,4.0,4.3,4.6,4.75,4.9];
const cHiRawVal=[0.8,0.75,0.75,1.3,2.3,1.7];
const cStars=[["hi",2.55,3.05],["star",2.45,0.75],["v",3.05,44]];

// Fig 1d cumulative profiles
const dR=[0,0.5,1,1.5,2,2.5,3,3.5,4,5,6,7.5];
const dMb=[0,0.04,0.17,0.33,0.53,0.70,0.82,0.89,0.935,0.975,0.99,1.0];
const dJb=[0,0.01,0.045,0.11,0.24,0.44,0.60,0.72,0.80,0.90,0.955,0.99];
const djb=[0,0.045,0.18,0.32,0.47,0.63,0.74,0.82,0.875,0.935,0.965,0.985];
const dJbLo=[0,0.01,0.04,0.10,0.22,0.41,0.56,0.67,0.75,0.85,0.91,0.935];
const dJbHi=[0,0.012,0.05,0.12,0.26,0.47,0.63,0.76,0.85,0.95,1.0,1.02];
const djbLo=[0,0.04,0.17,0.31,0.45,0.61,0.71,0.79,0.84,0.9,0.93,0.95];
const djbHi=[0,0.05,0.19,0.33,0.49,0.65,0.76,0.85,0.9,0.96,0.99,1.01];
const dHalfMass=[2.03];
const dHalfAM=[2.75];

// Fig 2
const thM=[9.38,9.61,10.23,10.47,10.62,10.70,10.74,10.79,10.85,10.91,11.0,11.05,11.18,11.28,11.30,11.39];
const thJ=[2.04,2.47,2.77,2.98,3.03,3.16,2.36,3.06,2.92,3.18,3.05,2.83,3.10,3.47,3.24,3.36];
const ltJErr=[0.08,0.10,0.06,0.12,0.12,0.10,0.07,0.05,0.08,0.25,0.08,0.05,0.1,0.1];
const haloM=[7.5,11.6], haloJ=[0.07,2.80], haloUp=[0.40,3.13], haloLo=[-0.36,2.37];
const fmM=[6.9,11.6], fmJ=[0.575,3.71], fmUp=[0.80,3.93], fmLo=[0.21,3.35];
const redM=[6.5,6.7,7.55,8.43,9.26,9.86,10.47,10.8,11.18,11.6];
const redJ=[0.6,0.755,1.245,1.88,2.41,2.79,3.0,3.01,3.24,3.57];
const redUp=[0.95,1.1,1.6,2.25,2.8,3.2,3.35,3.4,3.6,3.95];
const redLo=[0.3,0.4,0.9,1.5,2.05,2.45,2.7,2.75,2.95,3.25];
const blueM=[6.5,8.04,9.53,10.91,11.6];
const blueJ=[1.18,1.83,2.53,3.07,3.55];
const blueUp=[1.58,2.25,3.0,3.7,4.3];
const blueLo=[0.8,1.4,2.05,2.55,2.95];
const arrowFm=[[10.55,9.26,2.36,"fM =0.05"],[9.2,7.55,1.31,"fM =0.017"]];

// Fig 3
const thHiM=[8.60,8.91,9.02,9.13,9.23,9.53,8.73,9.63,9.53,9.73,9.83,9.83,10.02,10.13,10.12,10.12];
const thHiJ=[2.21,2.67,3.09,3.12,3.29,3.34,2.70,3.31,3.14,3.49,3.34,2.95,3.53,3.96,3.62,3.72];
const thStM=[9.30,9.35,9.70,9.90,10.10,10.35,10.75,10.57,10.70,10.88,10.95,11.05,11.10,11.18,11.26,11.30];
const thStJ=[2.04,2.04,2.45,2.62,2.95,2.97,2.35,3.0,2.95,2.93,2.8,3.07,3.02,3.25,3.38,3.3];
const bandHiA={m:[5.8,11.5],up:[0.65,5.05],lo:[-0.2,4.40]};
const bandBaA={m:[5.8,11.5],up:[0.70,3.70],lo:[0.50,3.08]};
const bandStA={m:[5.8,11.5],up:[1.20,3.52],lo:[0.72,2.62]};
const bandHiB={m:[5.8,11.5],up:[1.0,4.05],lo:[0.46,3.0]};
const bandStB={m:[5.8,11.5],up:[0.62,3.62],lo:[-0.3,2.42]};
const dashBaB={m:[5.9,11.44],j:[0.90,3.46]};

// ---------------- HELPERS ----------------
const NS='http://www.w3.org/2000/svg';
const S=document.getElementById('figs');
function el(tag,attrs,parent){const e=document.createElementNS(NS,tag);for(const k in attrs)e.setAttribute(k,attrs[k]);(parent||S).appendChild(e);return e;}
function named(e,name){
  
  
  return e;}
function tx(x,y,parts,size,opt){
  opt=opt||{};
  const t=el('text',{x:x,y:y,'font-size':size,'text-anchor':opt.anchor||'middle',fill:opt.fill||'#222'},opt.parent);
  if(opt.rot)t.setAttribute('transform','rotate('+opt.rot+' '+x+' '+y+')');
  if(opt.italic)t.setAttribute('font-style','italic');
  if(typeof parts==='string')parts=[[parts]];
  parts.forEach(p=>{const s=el('tspan',{},t);s.textContent=p[0];
    if(p[1]==='sup'){s.setAttribute('dy',-size*0.4);s.setAttribute('font-size',size*0.7);}
    if(p[1]==='sub'){s.setAttribute('dy',size*0.3);s.setAttribute('font-size',size*0.7);}
    if(p[1]==='base'){s.setAttribute('dy',p[2]);}
  });
  return t;}
function poly(xs,ys,sx,sy,stroke,w,parent,dash){
  const pts=xs.map((x,i)=>sx(x).toFixed(1)+','+sy(ys[i]).toFixed(1)).join(' ');
  const p=el('polyline',{points:pts,fill:'none',stroke:stroke,'stroke-width':w,'stroke-linejoin':'round'},parent);
  if(dash)p.setAttribute('stroke-dasharray',dash);
  return p;}
function band(xs,up,lo,sx,sy,fill,op,parent){
  const a=xs.map((x,i)=>sx(x).toFixed(1)+','+sy(up[i]).toFixed(1));
  const b=xs.map((x,i)=>sx(x).toFixed(1)+','+sy(lo[i]).toFixed(1)).reverse();
  return el('polygon',{points:a.concat(b).join(' '),fill:fill,'fill-opacity':op,stroke:'none'},parent);}
function diamond(cx,cy,r,fill,stroke,parent){
  return el('polygon',{points:`${cx},${cy-r} ${cx+r},${cy} ${cx},${cy+r} ${cx-r},${cy}`,fill:fill,stroke:stroke,'stroke-width':0.8},parent);}

// ---------------- TABLE 1 ----------------
(function(){
  const T=document.getElementById('table1');
  const colX=[118,177,237,310,384,467,597,713,803];
  const h1=['Galaxy','D','<i>M</i><sub>HI</sub>','<i>M</i><sub>*</sub>','<i>M</i><sub>b</sub>','<i>j</i><sub>HI</sub>','j<sub>*</sub>','<i>j</i><sub>b</sub>','<i>V</i><sub>max</sub>'];
  const h2=['','[Mpc]','[log<sub>10</sub> M<sub>⊙</sub>]','[log<sub>10</sub> M<sub>⊙</sub>]','[log<sub>10</sub> M<sub>⊙</sub>]','[log<sub>10</sub> kpc km s<sup>−1</sup>]','[log<sub>10</sub> kpc km s<sup>−1</sup>]','[log<sub>10</sub> kpc km s<sup>−1</sup>]','[km s<sup>−1</sup>]'];
  function cell(x,y,html,name){
    const d=document.createElement('div');
    d.className='tb';
    d.style.left=x+'px';d.style.top=y+'px';
    d.innerHTML=html;
    
    
    T.appendChild(d);}
  h1.forEach((h,i)=>cell(colX[i],98,h,'table-header-cell'));
  h2.forEach((h,i)=>cell(colX[i],113,h,'table-unit-cell'));
  const pm=(v,u,l)=>v+'±<span class="st">'+u+'<br>'+l+'</span>';
  tblName.forEach((n,r)=>{
    const y=137+r*14.75;
    cell(colX[0],y,n,'table-galaxy-name');
    cell(colX[1],y,tblD[r],'table-distance');
    cell(colX[2],y,pm(tblMHI[r].toFixed(2),tblMHIu[r],tblMHIl[r]),'table-mhi');
    cell(colX[3],y,pm(tblMs[r].toFixed(2),tblMsu[r],tblMsl[r]),'table-mstar');
    cell(colX[4],y,pm(tblMb[r].toFixed(2),tblMbu[r],tblMbl[r]),'table-mb');
    cell(colX[5],y,pm(tbljHI[r].toFixed(2),tbljHIu[r],tbljHIl[r]),'table-jhi');
    cell(colX[6],y,pm(tbljs[r].toFixed(2),tbljsu[r],tbljsl[r]),'table-jstar');
    cell(colX[7],y,pm(tbljb[r].toFixed(2),tbljbu[r],tbljbl[r]),'table-jb');
    cell(colX[8],y,tblVmax[r],'table-vmax');
  });
})();

// ---------------- FIG 1a/b axes ----------------
(function(){
  const g=named(el('g',{}),'fig1ab-axes');
  [[1991,'a)',2004],[2350,'b)',2366]].forEach(a=>{
    const ax=a[0];
    const yl=el('line',{x1:ax,y1:200,x2:ax,y2:487,stroke:'#444','stroke-width':0.8},g);
    named(yl,'dec-axis');
    [200,344,487].forEach(y=>el('line',{x1:ax-4,y1:y,x2:ax,y2:y,stroke:'#444','stroke-width':0.8},g));
    named(tx(ax-10,203,'+31:36:30',8.5,{rot:-90,parent:g}),'dec-tick-label');
    named(tx(ax-10,344,'+31:32:00',8.5,{rot:-90,parent:g}),'dec-tick-label');
    named(tx(a[2],195,a[1],11,{anchor:'start',parent:g}),'panel-label');
  });
  named(tx(1963,344,'Dec (dd:mm:ss)',11,{rot:-90,parent:g}),'dec-axis-title');
  [[2033,2237,[2135,2237]],[2393,2596,[2495,2596]]].forEach(a=>{
    const l=el('line',{x1:a[0],y1:488,x2:a[1],y2:488,stroke:'#444','stroke-width':0.8},g);
    named(l,'ra-axis');
    a[2].forEach((x,i)=>{el('line',{x1:x,y1:488,x2:x,y2:492,stroke:'#444','stroke-width':0.8},g);
      named(tx(x,503,i?'12:32:40':'12:32:55',10,{parent:g}),'ra-tick-label');});
    named(tx(a[2][0],518,'RA (hh:mm:ss)',11,{parent:g}),'ra-axis-title');
  });
  const cbVals=['40','30','20','10','0 km/s','−10','−20','−30','−40'];
  cbVals.forEach((v,i)=>named(tx(2655,228+i*29.1,v,10.5,{anchor:'start',parent:g}),'colorbar-label'));
})();

// ---------------- FIG 1c ----------------
(function(){
  const xC=r=>2001+r*37, yL=v=>860-v*32.1, yR=v=>860-v*5.58;
  const g=named(el('g',{}),'fig1c-radial-profiles');
  const cg=el('g',{'clip-path':'url(#clipC)'},g);
  named(poly(cHiR,cHiVal,xC,yL,'#7ee07e',5,cg),'hi-band').setAttribute('opacity','0.6');
  named(poly(cStarR,cStarVal,xC,yL,'#e9b37a',5,cg),'stellar-band').setAttribute('opacity','0.6');
  named(poly(cVR,cVVal,xC,yR,'#c9a4df',5,cg),'velocity-band').setAttribute('opacity','0.6');
  named(poly(cHiFitR,cHiFitVal,xC,yL,'#1c7f1c',1.2,cg,'3,2'),'hi-fit-dashed');
  named(poly(cHiR,cHiVal,xC,yL,'#0f7a0f',1.3,cg),'hi-profile-line');
  named(poly(cStarR,cStarVal,xC,yL,'#c26a00',1.3,cg),'stellar-profile-line');
  named(poly(cVR,cVVal,xC,yR,'#5a1a8a',1.3,cg),'velocity-profile-line');
  cHiR.forEach((r,i)=>{if(r<3.7){const c=el('circle',{cx:xC(r),cy:yL(cHiVal[i]),r:2,fill:'#33cc33'},cg);
    }});
  cStarR.forEach((r,i)=>{if(r<3.7){const c=el('circle',{cx:xC(r),cy:yL(cStarVal[i]),r:2,fill:'#f0a020'},cg);
    }});
  cVR.forEach((r,i)=>{if(r<3.1){const c=el('circle',{cx:xC(r),cy:yR(cVVal[i]),r:2.2,fill:'#8a2be2'},cg);
    }});
  cVRawR.forEach((r,i)=>{const c=el('circle',{cx:xC(r),cy:yR(cVRawVal[i]),r:i<6?2:0.9,fill:'#9a3be8'},cg);
    });
  cHiRawR.forEach((r,i)=>{const c=el('circle',{cx:xC(r),cy:yL(cHiRawVal[i]),r:0.9,fill:'#33cc33'},cg);
    });
  cStars.forEach(s=>{const y=s[0]==='v'?yR(s[2]):yL(s[2]);
    const t=tx(xC(s[1]),y+4.5,'★',13,{fill:s[0]==='hi'?'#0a600a':s[0]==='star'?'#c06000':'#6a1aa0',parent:g});
    });
  named(el('rect',{x:1991,y:583,width:287,height:288,fill:'none',stroke:'#444','stroke-width':0.8},g),'fig1c-frame');
  [0,2,4,6,8].forEach(v=>{el('line',{x1:1987,y1:yL(v),x2:1991,y2:yL(v),stroke:'#444','stroke-width':0.8},g);
    named(tx(1982,yL(v),String(v),10,{rot:-90,parent:g}),'sigma-tick-label');});
  [0,10,20,30,40].forEach(v=>{el('line',{x1:2278,y1:yR(v),x2:2282,y2:yR(v),stroke:'#444','stroke-width':0.8},g);
    named(tx(2292,yR(v),String(v),10,{rot:-90,parent:g}),'velocity-tick-label');});
  [0,2,4,6].forEach(v=>{el('line',{x1:xC(v),y1:871,x2:xC(v),y2:875,stroke:'#444','stroke-width':0.8},g);
    named(tx(xC(v),884,String(v),10,{parent:g}),'radius-tick-label');});
  named(tx(2135,900,'Radius [kpc]',11.5,{parent:g}),'radius-axis-title');
  named(tx(1963,730,[['Σ  [M'],['⊙','sub'],[' pc','base',-3],['−2','sup'],[' ]','base',3]],11.5,{rot:-90,parent:g}),'sigma-axis-title');
  named(tx(2307,730,[['Circular Velocity [km s'],['−1','sup'],[' ]','base',4]],11.5,{rot:-90,parent:g}),'velocity-axis-title');
  named(tx(2004,579,'c)',11,{anchor:'start',parent:g}),'panel-label');
  [['#0f7a0f','Σ','HI',724],['#c26a00','Σ','*',733],['#5a1a8a','V','',742]].forEach(l=>{
    el('line',{x1:2228,y1:l[3],x2:2243,y2:l[3],stroke:l[0],'stroke-width':1.2},g);
    named(tx(2252,l[3]+3,[[l[1]],[l[2],'sub']],9,{anchor:'start',fill:l[0],parent:g}),'legend-entry');});
})();

// ---------------- FIG 1d ----------------
(function(){
  const xD=r=>2362+r*36.9, yD=v=>860-v*266;
  const g=named(el('g',{}),'fig1d-cumulative-profiles');
  const cg=el('g',{'clip-path':'url(#clipD)'},g);
  named(band(dR,dJbHi,dJbLo,xD,yD,'#d9b84a',0.8,cg),'jb-total-band');
  named(band(dR,djbHi,djbLo,xD,yD,'#f08070',0.7,cg),'jb-specific-band');
  named(el('line',{x1:2352,y1:yD(1),x2:2639,y2:yD(1),stroke:'#333','stroke-width':0.8},cg),'unity-line');
  named(el('line',{x1:xD(dHalfMass[0]),y1:583,x2:xD(dHalfMass[0]),y2:871,stroke:'#2a7aa0','stroke-width':1.3},cg),'half-mass-radius-line');
  named(el('line',{x1:xD(dHalfAM[0]),y1:583,x2:xD(dHalfAM[0]),y2:871,stroke:'#e0c000','stroke-width':1.3},cg),'half-am-radius-line');
  named(poly(dR,dMb,xD,yD,'#1f6f99',1.3,cg),'mb-line');
  named(poly(dR,dJb,xD,yD,'#c8a800',1.3,cg),'jtot-line');
  named(poly(dR,djb,xD,yD,'#9a1010',1.3,cg),'jspec-line');
  dR.forEach((r,i)=>{if(r<=3.5){
    const a=el('circle',{cx:xD(r),cy:yD(dMb[i]),r:2.4,fill:'#33bbee'},cg);
    
    const b=el('circle',{cx:xD(r),cy:yD(dJb[i]),r:2.4,fill:'#f0cc00'},cg);
    
    const c=el('circle',{cx:xD(r),cy:yD(djb[i]),r:2.4,fill:'#dd1010'},cg);
    }});
  named(el('rect',{x:2352,y:583,width:287,height:288,fill:'none',stroke:'#444','stroke-width':0.8},g),'fig1d-frame');
  [0,0.2,0.4,0.6,0.8,1].forEach(v=>{el('line',{x1:2348,y1:yD(v),x2:2352,y2:yD(v),stroke:'#444','stroke-width':0.8},g);
    named(tx(2343,yD(v),String(v),10,{rot:-90,parent:g}),'cumulative-tick-label');});
  [0,2,4,6].forEach(v=>{el('line',{x1:xD(v),y1:871,x2:xD(v),y2:875,stroke:'#444','stroke-width':0.8},g);
    named(tx(xD(v),884,String(v),10,{parent:g}),'radius-tick-label');});
  named(tx(2497,900,'Radius [kpc]',11.5,{parent:g}),'radius-axis-title');
  named(tx(2323,727,'Normalised Cumulative Quantities',11.5,{rot:-90,parent:g}),'cumulative-axis-title');
  named(tx(2363,579,'d)',11,{anchor:'start',parent:g}),'panel-label');
  [['#1f6f99','M',714],['#c8a800','J',730],['#9a1010','j',741]].forEach(l=>{
    el('line',{x1:2588,y1:l[2],x2:2608,y2:l[2],stroke:l[0],'stroke-width':1.2},g);
    named(tx(2618,l[2]+3,[[l[1]],['b','sub']],9.5,{anchor:'start',fill:l[0],italic:true,parent:g}),'legend-entry');});
})();

// log-axis helper
function logAxes(g,x0,x1,y0,y1,sx,sy,xDec,yDec,inward){
  const d=inward?1:-1;
  for(let e=Math.floor(xDec[0])-1;e<=xDec[1];e++){for(let k=1;k<10;k++){const lv=e+Math.log10(k);const x=sx(lv);if(x<x0||x>x1)continue;const L=k===1?5:2.5;
    el('line',{x1:x,y1:y1,x2:x,y2:y1-d*L,stroke:'#333','stroke-width':0.7},g);el('line',{x1:x,y1:y0,x2:x,y2:y0+d*L,stroke:'#333','stroke-width':0.7},g);}}
  for(let e=Math.floor(yDec[0])-1;e<=yDec[1];e++){for(let k=1;k<10;k++){const lv=e+Math.log10(k);const y=sy(lv);if(y<y0||y>y1)continue;const L=k===1?5:2.5;
    el('line',{x1:x0,y1:y,x2:x0+d*L,y2:y,stroke:'#333','stroke-width':0.7},g);el('line',{x1:x1,y1:y,x2:x1-d*L,y2:y,stroke:'#333','stroke-width':0.7},g);}}
  named(el('rect',{x:x0,y:y0,width:x1-x0,height:y1-y0,fill:'none',stroke:'#333','stroke-width':0.9},g),'plot-frame');
}

// ---------------- FIG 2 ----------------
(function(){
  const x2=lg=>3330+(lg-7)*60.5, y2=lg=>355-(lg-1)*88.5;
  const g=named(el('g',{}),'fig2-mb-jb-plane');
  const cg=el('g',{'clip-path':'url(#clip2)'},g);
  named(band(fmM,fmUp,fmLo,x2,y2,'#d4d4d4',1,cg),'fm-constant-band');
  named(band(haloM,haloUp,haloLo,x2,y2,'#7c7c7c',1,cg),'halo-band');
  named(band(blueM,blueUp,blueLo,x2,y2,'#7070f0',0.5,cg),'blue-fm-band');
  named(band(redM,redUp,redLo,x2,y2,'#c06a6a',0.45,cg),'red-fm-band');
  named(poly(haloM,haloJ,x2,y2,'#000',1.2,cg),'halo-relation-line');
  named(poly(fmM,fmJ,x2,y2,'#9a9a9a',0.9,cg),'fm-constant-line');
  named(poly(redM,redJ,x2,y2,'#a01515',1.3,cg),'baldry-fm-line');
  named(poly(blueM,blueJ,x2,y2,'#1515c0',1.3,cg),'fitted-fm-line');
  arrowFm.forEach(a=>{
    const y=y2(a[2]);
    named(el('line',{x1:x2(a[0]),y1:y,x2:x2(a[1]),y2:y,stroke:'#111','stroke-width':0.9},cg),'fm-arrow');
    named(el('polyline',{points:`${x2(a[1])+10},${y-6} ${x2(a[1])},${y} ${x2(a[1])+10},${y+6}`,fill:'none',stroke:'#111','stroke-width':0.9},cg),'fm-arrow-head');
    const lx=(x2(a[0])+x2(a[1]))/2+5;
    named(tx(lx,y-4,[['f'],['M','sub'],[' =' + a[3].split('=')[1],'base',-2]],7.5,{parent:cg}),'fm-arrow-label');
  });
  thM.forEach((m,i)=>{const c=el('circle',{cx:x2(m),cy:y2(thJ[i]),r:2.6,fill:'none',stroke:'#111','stroke-width':1.1},cg);
    });
  tblMb.forEach((m,i)=>{
    const cx=x2(m),cy=y2(tbljb[i]);
    el('line',{x1:cx,y1:y2(tbljb[i]+ltJErr[i]),x2:cx,y2:y2(tbljb[i]-ltJErr[i]),stroke:'#333','stroke-width':0.7},cg);
    const white=excludedLT.indexOf(tblName[i])>=0;
    const d=diamond(cx,cy,3,white?'#fff':'#000','#000',cg);
    
  });
  logAxes(g,3302,3604,107,377,x2,y2,[6.5,11.6],[0.7,3.8],true);
  [7,8,9,10,11].forEach(e=>named(tx(x2(e),399,[['10'],[String(e),'sup']],9,{parent:g}),'x-tick-label'));
  [1,2,3].forEach(e=>named(tx(3290,y2(e),[['10'],[String(e),'sup']],9,{rot:-90,parent:g}),'y-tick-label'));
  named(tx(3445,417,[['M','base',0],['  [M'],['⊙','sub'],[' ]','base',-2]],10,{parent:g}),'x-axis-title');
  named(tx(3265,242,[['j'],['b','sub'],['  [kpc km s','base',-2],['−1','sup'],[' ]','base',3]],10,{rot:-90,parent:g}),'y-axis-title');
  const lg=named(el('g',{}),'fig2-legend');
  g.appendChild(lg);
  named(el('circle',{cx:3313,cy:122,r:2,fill:'none',stroke:'#111','stroke-width':0.9},lg),'legend-things-marker');
  named(diamond(3313,129,2.5,'#000','#000',lg),'legend-lt-marker');
  const legRows=[[3304,3333,141,'#000'],[3304,3333,150,'#aaa'],[3304,3333,159,'#b03030'],[3304,3333,178,'#2020c0']];
  legRows.forEach(r=>named(el('line',{x1:r[0],y1:r[2],x2:r[1],y2:r[2],stroke:r[3],'stroke-width':1},lg),'legend-line'));
  const legTexts=[[122,'THINGS','#222'],[129,'LITTLE THINGS','#222'],[141,'Halo relation','#222'],[150,'fM =0.05','#aaa'],[159,'Variable fM','#b03030'],[166,'(Baldry et al. 2008)','#b03030'],[178,'Variable fM','#2020c0'],[185,'(LITTLE THINGS + THINGS)','#2020c0']];
  legTexts.forEach(t=>named(tx(3339,t[0]+3,t[1],7.5,{anchor:'start',fill:t[2],parent:lg}),'legend-label'));
})();

// ---------------- FIG 3 ----------------
(function(){
  const x3=lg=>4258.6+(lg-6)*48.7;
  function panel(top,label){
    const base=top==='a'?298.9:582.1;
    const y3=lg=>base-(lg-1)*55.9;
    const g=named(el('g',{}),'fig3'+top+'-panel');
    const cg=el('g',{'clip-path':'url(#clip3'+top+')'},g);
    if(top==='a'){
      named(band(bandHiA.m,bandHiA.up,bandHiA.lo,x3,y3,'#5cf05c',0.85,cg),'hi-band');
      named(band(bandBaA.m,bandBaA.up,bandBaA.lo,x3,y3,'#c07de8',0.9,cg),'baryon-band');
      named(band(bandStA.m,bandStA.up,bandStA.lo,x3,y3,'#e88050',0.65,cg),'stellar-band');
    } else {
      named(band(bandHiB.m,bandHiB.up,bandHiB.lo,x3,y3,'#5cf05c',0.85,cg),'hi-band');
      named(band(bandStB.m,bandStB.up,bandStB.lo,x3,y3,'#f8b050',0.7,cg),'stellar-band');
      named(poly(dashBaB.m,dashBaB.j,x3,y3,'#8a2be2',2,cg,'8,5'),'baryon-fit-dashed');
    }
    const cHi=top==='a'?thHiM:thM, cSt=top==='a'?thStM:thM;
    thM.forEach((m,i)=>{
      const a=el('circle',{cx:x3(m),cy:y3(thJ[i]),r:2.6,fill:'none',stroke:'#7a2ab0','stroke-width':1.1},cg);
      
      const b=el('circle',{cx:x3(cHi[i]),cy:y3(thHiJ[i]),r:2.6,fill:'none',stroke:'#0a7a0a','stroke-width':1.1},cg);
      
      const c=el('circle',{cx:x3(cSt[i]),cy:y3(thStJ[i]),r:2.6,fill:'none',stroke:'#e07020','stroke-width':1.1},cg);
      
    });
    tblName.forEach((n,i)=>{
      const xb=x3(tblMb[i]);
      const xh=top==='a'?x3(tblMHI[i]):xb, xs=top==='a'?x3(tblMs[i]):xb;
      const a=diamond(xb,y3(tbljb[i]),2.6,'#7a2ab0','none',cg);
      
      const b=diamond(xh,y3(tbljHI[i]),2.6,'#0a600a','none',cg);
      
      const c=diamond(xs,y3(tbljs[i]),2.6,'#d86a10','none',cg);
      
    });
    const y0=top==='a'?122:405;
    logAxes(g,4250,4524,y0,y0+207,x3,y3,[5.8,11.5],[0.4,4.2],true);
    [6,7,8,9,10,11].forEach(e=>named(tx(x3(e),y0+221,[['10'],[String(e),'sup']],8.5,{parent:g}),'x-tick-label'));
    [1,2,3,4].forEach(e=>named(tx(4238,y3(e),[['10'],[String(e),'sup']],8.5,{rot:-90,parent:g}),'y-tick-label'));
    named(tx(4386,y0+245,top==='a'?[['M'],['  [M⊙]']]:[['M'],['b','sub'],['  [M⊙]','base',-2]],10,{parent:g}),'x-axis-title');
    named(tx(4212,y0+104,[['j  [kpc km s'],['−1','sup'],[' ]','base',3]],9.5,{rot:-90,parent:g}),'y-axis-title');
    named(tx(4275,y0-10,label,11,{anchor:'start',parent:g}),'panel-label');
    named(tx(4272,y0+86,'LITTLE THINGS',9.5,{rot:-90,parent:g}),'lt-vertical-label');
    named(tx(4282,y0+86,'THINGS',9.5,{rot:-90,parent:g}),'things-vertical-label');
    [['Baryons','#7a2ab0',20],['HI','#0a7a0a',32],['Stars','#e07020',44]].forEach(r=>{
      named(diamond(4270,y0+r[2],2.3,r[1],'none',g),'legend-diamond');
      named(el('circle',{cx:4280,cy:y0+r[2],r:2.3,fill:'none',stroke:r[1],'stroke-width':1},g),'legend-circle');
      named(tx(4290,y0+r[2]+3.5,r[0],9.5,{anchor:'start',fill:r[1],parent:g}),'legend-label');
    });
  }
  panel('a','a)');
  panel('b','b)');
})();
</script>
</body></html>
